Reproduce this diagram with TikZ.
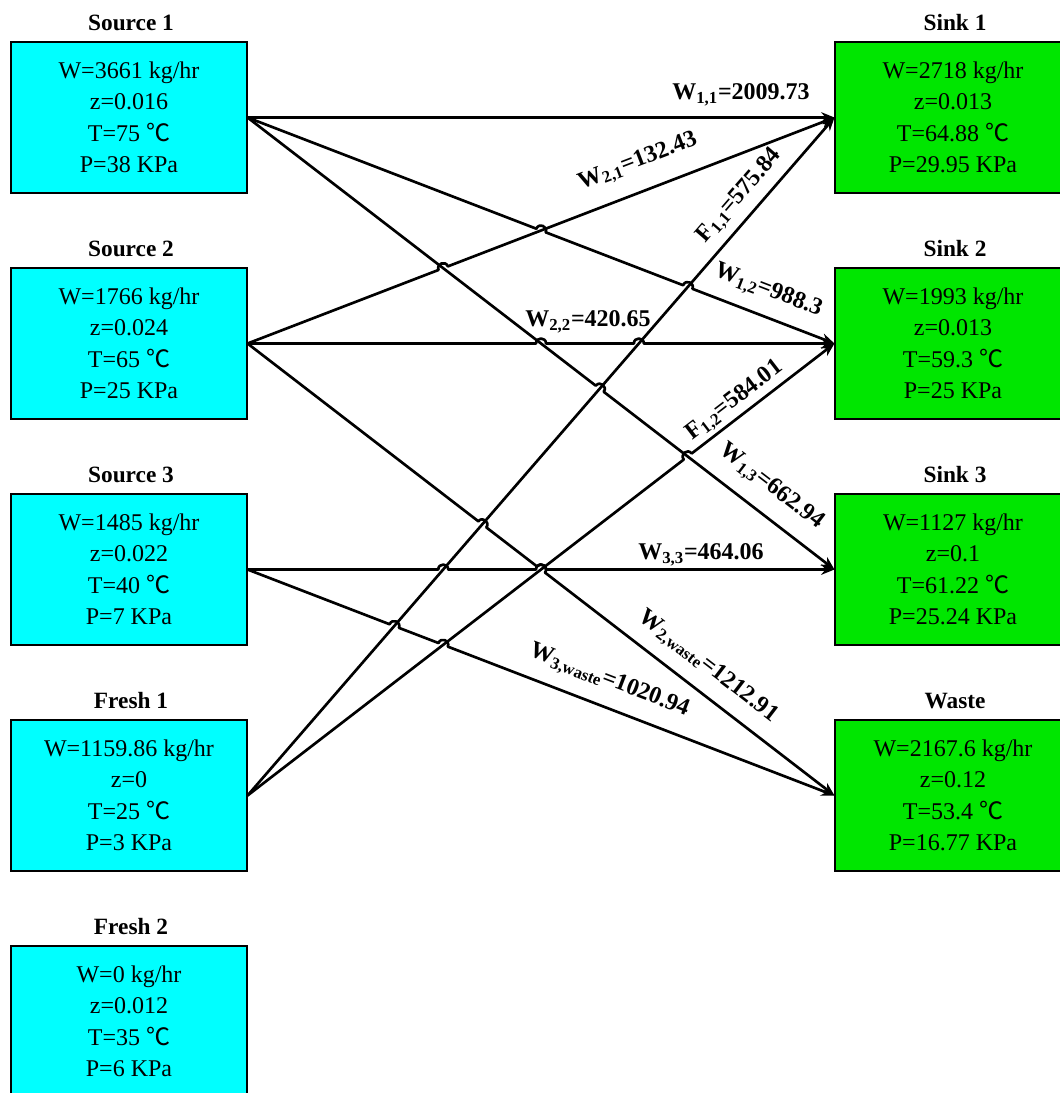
\documentclass[tikz,border=0pt]{standalone}
\usepackage{fontspec}
\setmainfont{Liberation Serif}
\newfontfamily\cjk{Noto Sans CJK SC}
\usetikzlibrary{calc,arrows.meta}
\definecolor{srcfill}{RGB}{0,255,255}
\definecolor{snkfill}{RGB}{0,230,0}
\tikzset{
  box/.style={draw=black, line width=0.8pt, minimum width=177pt, minimum height=113.25pt, inner sep=0pt, align=center, font=\fontsize{18}{23.6}\selectfont},
  srcbox/.style={box, fill=srcfill},
  snkbox/.style={box, fill=snkfill},
  ttl/.style={anchor=base, font=\fontsize{17.5}{20}\selectfont\bfseries, inner sep=0pt},
  lab/.style={font=\fontsize{18}{20}\selectfont\bfseries, inner sep=0pt},
  flow/.style={line width=2pt, line join=round, -{Stealth[length=10pt,width=8pt]}},
  jump/.style n args={3}{insert path={-- ($(#1)!3.75pt!(#2)$) .. controls ($(#1)!3.75pt!(#2)!5pt!90:(#1)$) and ($(#1)!3.75pt!(#3)!5pt!-90:(#1)$) .. ($(#1)!3.75pt!(#3)$)}},
}
\begin{document}
\begin{tikzpicture}[x=0.75pt,y=-0.75pt]
\path[use as bounding box] (0,0) rectangle (1060,1093);
\clip (0,0) rectangle (1060,1093);
% source boxes
\node[srcbox] (s1) at (129,117.5) {W=3661 kg/hr\\z=0.016\\T=75 {\cjk ℃}\\P=38 KPa};
\node[srcbox] (s2) at (129,343.5) {W=1766 kg/hr\\z=0.024\\T=65 {\cjk ℃}\\P=25 KPa};
\node[srcbox] (s3) at (129,569.5) {W=1485 kg/hr\\z=0.022\\T=40 {\cjk ℃}\\P=7 KPa};
\node[srcbox] (f1) at (129,795.5) {W=1159.86 kg/hr\\z=0\\T=25 {\cjk ℃}\\P=3 KPa};
\node[srcbox] (f2) at (129,1021.5) {W=0 kg/hr\\z=0.012\\T=35 {\cjk ℃}\\P=6 KPa};
% sink boxes
\node[snkbox] (k1) at (953,117.5) {W=2718 kg/hr\\z=0.013\\T=64.88 {\cjk ℃}\\P=29.95 KPa};
\node[snkbox] (k2) at (953,343.5) {W=1993 kg/hr\\z=0.013\\T=59.3 {\cjk ℃}\\P=25 KPa};
\node[snkbox] (k3) at (953,569.5) {W=1127 kg/hr\\z=0.1\\T=61.22 {\cjk ℃}\\P=25.24 KPa};
\node[snkbox] (kw) at (953,795.5) {W=2167.6 kg/hr\\z=0.12\\T=53.4 {\cjk ℃}\\P=16.77 KPa};
% titles
\node[ttl] (ts1) at ($(s1.north)+(2,-11.3)$) {Source 1};
\node[ttl] (ts2) at ($(s2.north)+(2,-11.3)$) {Source 2};
\node[ttl] (ts3) at ($(s3.north)+(2,-11.3)$) {Source 3};
\node[ttl] (tf1) at ($(f1.north)+(2,-11.3)$) {Fresh 1};
\node[ttl] (tf2) at ($(f2.north)+(2,-11.3)$) {Fresh 2};
\node[ttl] (tk1) at ($(k1.north)+(2,-11.3)$) {Sink 1};
\node[ttl] (tk2) at ($(k2.north)+(2,-11.3)$) {Sink 2};
\node[ttl] (tk3) at ($(k3.north)+(2,-11.3)$) {Sink 3};
\node[ttl] (tkw) at ($(kw.north)+(2,-11.3)$) {Waste};
% end points
\coordinate (a1) at (s1.east);
\coordinate (a2) at (s2.east);
\coordinate (a3) at (s3.east);
\coordinate (a4) at (f1.east);
\coordinate (b1) at (k1.west);
\coordinate (b2) at (k2.west);
\coordinate (b3) at (k3.west);
\coordinate (b4) at (kw.west);
% crossings
\coordinate (x1) at (intersection of a1--b2 and a2--b1);
\coordinate (x2) at (intersection of a1--b3 and a2--b1);
\coordinate (x3) at (intersection of a1--b3 and a2--b2);
\coordinate (x4) at (intersection of a4--b1 and a2--b2);
\coordinate (x5) at (intersection of a4--b1 and a1--b2);
\coordinate (x6) at (intersection of a4--b1 and a1--b3);
\coordinate (x7) at (intersection of a4--b1 and a2--b4);
\coordinate (x8) at (intersection of a4--b1 and a3--b3);
\coordinate (x9) at (intersection of a4--b1 and a3--b4);
\coordinate (x10) at (intersection of a4--b2 and a1--b3);
\coordinate (x11) at (intersection of a4--b2 and a3--b3);
\coordinate (x12) at (intersection of a4--b2 and a3--b4);
% connectors
\draw[flow] (a1) -- (b1);
\draw[flow] (a1) [jump={x1}{a1}{b2}] [jump={x5}{a1}{b2}] -- (b2);
\draw[flow] (a1) [jump={x6}{a1}{b3}] -- (b3);
\draw[flow] (a2) [jump={x2}{a2}{b1}] -- (b1);
\draw[flow] (a2) [jump={x3}{a2}{b2}] [jump={x4}{a2}{b2}] -- (b2);
\draw[flow] (a2) [jump={x7}{a2}{b4}] [jump={x11}{a2}{b4}] -- (b4);
\draw[flow] (a3) [jump={x8}{a3}{b3}] [jump={x11}{a3}{b3}] -- (b3);
\draw[flow] (a3) [jump={x9}{a3}{b4}] [jump={x12}{a3}{b4}] -- (b4);
\draw[flow] (a4) -- (b1);
\draw[flow] (a4) [jump={x10}{a4}{b2}] -- (b2);
% labels
\node[lab] (w11) at (741,95) {W\textsubscript{1,1}=2009.73};
\node[lab, rotate=21.02] (w21) at (638,162) {W\textsubscript{2,1}=132.43};
\node[lab, rotate=49.06] (f11l) at (740,196) {F\textsubscript{1,1}=575.84};
\node[lab, rotate=-21.02] (w12) at (768,291) {W\textsubscript{1,2}=988.3};
\node[lab] (w22) at (588,322) {W\textsubscript{2,2}=420.65};
\node[lab, rotate=37.55] (f12l) at (735,401) {F\textsubscript{1,2}=584.01};
\node[lab, rotate=-37.55] (w13) at (771,487) {W\textsubscript{1,3}=662.94};
\node[lab] (w33) at (701,555) {W\textsubscript{3,3}=464.06};
\node[lab, rotate=-37.55] (w2w) at (708,667) {W\textsubscript{2,waste}=1212.91};
\node[lab, rotate=-21.02] (w3w) at (609,681) {W\textsubscript{3,waste}=1020.94};
\end{tikzpicture}
\end{document}
